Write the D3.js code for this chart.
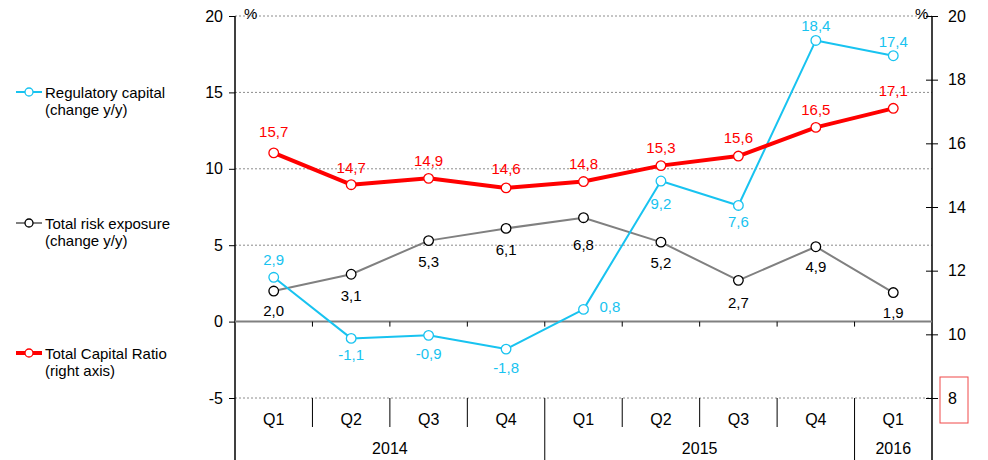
<!DOCTYPE html>
<html>
<head>
<meta charset="utf-8">
<script src="https://cdn.jsdelivr.net/npm/d3@7"></script>
<style>
  html, body { margin: 0; padding: 0; background: #fff; }
  svg { display: block; font-family: "Liberation Sans", Arial, sans-serif; }
</style>
</head>
<body>
<svg id="chart" width="988" height="460"></svg>
<script>
// Quarterly categories
const quarters = ["Q1", "Q2", "Q3", "Q4", "Q1", "Q2", "Q3", "Q4", "Q1"];
const years = [
  { label: "2014", from: 0, to: 4 },
  { label: "2015", from: 4, to: 8 },
  { label: "2016", from: 8, to: 9 }
];

// Series values (%)
const regulatoryCapital = [2.9, -1.1, -0.9, -1.8, 0.8, 9.2, 7.6, 18.4, 17.4];
const totalRiskExposure = [2.0, 3.1, 5.3, 6.1, 6.8, 5.2, 2.7, 4.9, 1.9];
const totalCapitalRatio = [15.7, 14.7, 14.9, 14.6, 14.8, 15.3, 15.6, 16.5, 17.1];

// Axis ticks
const leftTicks = [-5, 0, 5, 10, 15, 20];
const rightTicks = [8, 10, 12, 14, 16, 18, 20];

// Vertical offset of each data label's centre from its marker (px);
// null means the label sits to the right of the marker
const regLabelDy = [-18, 16, 18, 19, null, 23, 16, -15, -14];
const expLabelDy = [20, 21, 21, 21, 27, 21, 22, 20, 20];
const ratioLabelDy = [-21, -17, -18, -19, -18, -18, -18, -18, -18];

const fmt = v => v.toFixed(1).replace(".", ",");

const svg = d3.select("#chart");
const X0 = 235, X1 = 932, YTOP = 16, YBOT = 398, TABLE_BOT = 460;
const LABEL_SIZE = 15;
const HALF_CAP = 5.3; // baseline shift to centre a 15px label vertically

const x = d3.scaleBand().domain(d3.range(quarters.length)).range([X0, X1]).padding(0);
const cx = i => x(i) + x.bandwidth() / 2;
const yL = d3.scaleLinear().domain([-5, 20]).range([YBOT, YTOP]);
const yR = d3.scaleLinear().domain([8, 20]).range([YBOT, YTOP]);

const CYAN = "#18c3f0", GRAY = "#808080", RED = "#ff0000";

// Dotted gridlines
svg.append("g").selectAll("line")
  .data(leftTicks.filter(t => t !== 0))
  .join("line")
  .attr("x1", X0).attr("x2", X1)
  .attr("y1", d => yL(d)).attr("y2", d => yL(d))
  .attr("stroke", "#8c8c8c").attr("stroke-width", 1)
  .attr("stroke-dasharray", "2,2");

// Left axis
const leftAxis = d3.axisLeft(yL).tickValues(leftTicks).tickSize(6).tickPadding(6).tickFormat(d => d);
const gL = svg.append("g").attr("transform", `translate(${X0},0)`).call(leftAxis);
gL.select(".domain").remove();
gL.selectAll("line").attr("stroke", "#000");
gL.selectAll("text").attr("font-size", 16).attr("fill", "#000").attr("font-family", "Liberation Sans, Arial, sans-serif");
svg.append("line").attr("x1", X0).attr("x2", X0).attr("y1", YTOP).attr("y2", TABLE_BOT)
  .attr("stroke", "#000").attr("stroke-width", 1.5);

// Right axis (ticks cross the axis line)
const rightAxis = d3.axisRight(yR).tickValues(rightTicks).tickSize(6).tickPadding(10).tickFormat(d => d);
const gR = svg.append("g").attr("transform", `translate(${X1},0)`).call(rightAxis);
gR.select(".domain").remove();
gR.selectAll(".tick line").attr("x1", -6).attr("stroke", "#000");
gR.selectAll("text").attr("font-size", 16).attr("fill", "#000").attr("font-family", "Liberation Sans, Arial, sans-serif");
svg.append("line").attr("x1", X1).attr("x2", X1).attr("y1", YTOP).attr("y2", TABLE_BOT)
  .attr("stroke", "#000").attr("stroke-width", 1.5);

// Unit markers
svg.append("text").attr("x", 244).attr("y", 19).attr("font-size", 15).text("%");
svg.append("text").attr("x", 915).attr("y", 19).attr("font-size", 15).text("%");

// Zero line with category ticks
svg.append("line").attr("x1", X0).attr("x2", X1).attr("y1", yL(0)).attr("y2", yL(0))
  .attr("stroke", GRAY).attr("stroke-width", 2);
svg.append("g").selectAll("line")
  .data(d3.range(1, quarters.length))
  .join("line")
  .attr("x1", d => x(d)).attr("x2", d => x(d))
  .attr("y1", yL(0)).attr("y2", yL(0) + 5)
  .attr("stroke", "#000").attr("stroke-width", 1);

// Category table below the plot
const yearBounds = new Set(years.map(y => y.from));
svg.append("g").selectAll("line")
  .data(d3.range(1, quarters.length))
  .join("line")
  .attr("x1", d => x(d)).attr("x2", d => x(d))
  .attr("y1", YBOT).attr("y2", d => yearBounds.has(d) ? TABLE_BOT : 427)
  .attr("stroke", "#000").attr("stroke-width", 1);
svg.append("g").selectAll("text")
  .data(quarters)
  .join("text")
  .attr("x", (d, i) => cx(i)).attr("y", 425)
  .attr("text-anchor", "middle").attr("font-size", 16)
  .text(d => d);
svg.append("g").selectAll("text")
  .data(years)
  .join("text")
  .attr("x", d => (x(d.from) + (d.to < quarters.length ? x(d.to) : X1)) / 2)
  .attr("y", 454)
  .attr("text-anchor", "middle").attr("font-size", 16)
  .text(d => d.label);

// Line series
function drawSeries(values, yScale, color, width, markerStroke) {
  const line = d3.line().x((d, i) => cx(i)).y(d => yScale(d));
  svg.append("path").datum(values)
    .attr("d", line).attr("fill", "none")
    .attr("stroke", color).attr("stroke-width", width)
    .attr("stroke-linejoin", "round");
  svg.append("g").selectAll("circle")
    .data(values).join("circle")
    .attr("cx", (d, i) => cx(i)).attr("cy", d => yScale(d))
    .attr("r", 4.8).attr("fill", "#fff")
    .attr("stroke", markerStroke).attr("stroke-width", 1.3);
}

drawSeries(totalRiskExposure, yL, GRAY, 2, "#000");
drawSeries(regulatoryCapital, yL, CYAN, 2, CYAN);
drawSeries(totalCapitalRatio, yR, RED, 4, RED);

// Data labels
function drawLabels(values, yScale, offsets, color) {
  svg.append("g").selectAll("text")
    .data(values).join("text")
    .attr("x", (d, i) => offsets[i] === null ? cx(i) + 16 : cx(i))
    .attr("y", (d, i) => yScale(d) + (offsets[i] === null ? -3 : offsets[i]) + HALF_CAP)
    .attr("text-anchor", (d, i) => offsets[i] === null ? "start" : "middle")
    .attr("font-size", LABEL_SIZE).attr("fill", color)
    .text(fmt);
}
drawLabels(totalRiskExposure, yL, expLabelDy, "#000");
drawLabels(regulatoryCapital, yL, regLabelDy, CYAN);
drawLabels(totalCapitalRatio, yR, ratioLabelDy, RED);

// Legend
const legendItems = [
  { lines: ["Regulatory capital", "(change y/y)"], color: CYAN, width: 2, marker: CYAN, y: 92 },
  { lines: ["Total risk exposure", "(change y/y)"], color: GRAY, width: 2, marker: "#000", y: 223 },
  { lines: ["Total Capital Ratio", "(right axis)"], color: RED, width: 4, marker: RED, y: 353 }
];
const lg = svg.append("g").selectAll("g").data(legendItems).join("g")
  .attr("transform", d => `translate(0,${d.y})`);
lg.append("line").attr("x1", 16).attr("x2", 42).attr("y1", 0).attr("y2", 0)
  .attr("stroke", d => d.color).attr("stroke-width", d => d.width);
lg.append("circle").attr("cx", 29).attr("cy", 0).attr("r", 4)
  .attr("fill", "#fff").attr("stroke", d => d.marker).attr("stroke-width", 1.3);
lg.append("text").attr("x", 45).attr("y", 5.5).attr("font-size", 15)
  .selectAll("tspan").data(d => d.lines).join("tspan")
  .attr("x", 45).attr("dy", (d, i) => i === 0 ? 0 : 17)
  .text(d => d);

// Highlight box around the bottom right-axis tick
svg.append("rect").attr("x", 940).attr("y", 377).attr("width", 28).attr("height", 46)
  .attr("fill", "none").attr("stroke", "#f04848").attr("stroke-width", 1);
</script>
</body>
</html>
